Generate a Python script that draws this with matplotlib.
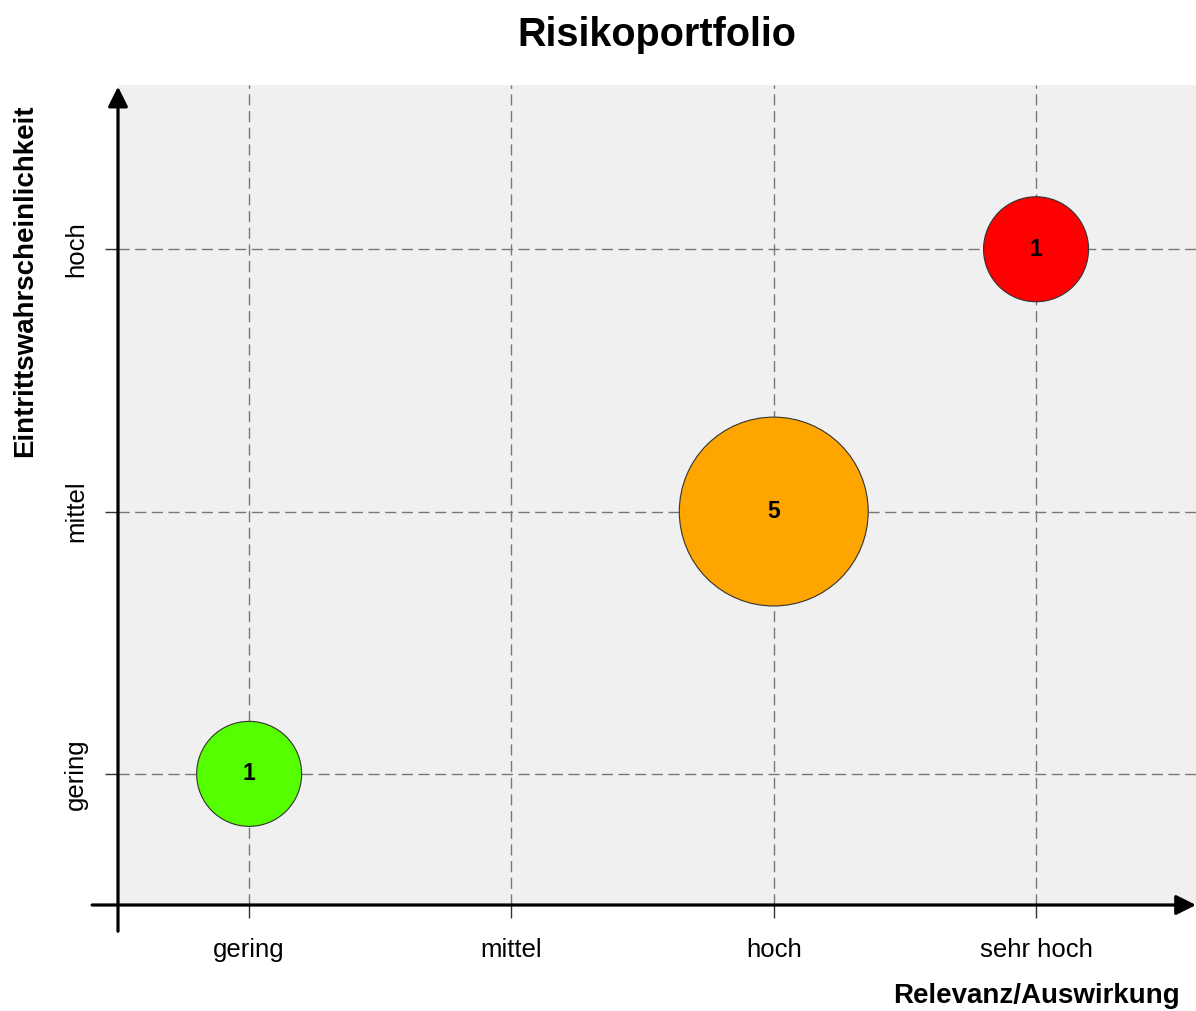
import matplotlib
matplotlib.use('Agg')
import matplotlib.pyplot as plt
import numpy as np

plt.rcParams['font.family'] = ['Liberation Sans', 'DejaVu Sans']

# data
x_levels = ['gering', 'mittel', 'hoch', 'sehr hoch']
y_levels = ['gering', 'mittel', 'hoch']
risk_x = [1, 3, 4]          # Relevanz/Auswirkung (1..4)
risk_y = [1, 2, 3]          # Eintrittswahrscheinlichkeit (1..3)
risk_count = [1, 5, 1]
risk_color = ['#55FF00', '#FFA500', '#FF0000']


def bubbleSize(counts, rmin=37.8, rmax=68.0):
    # linear radius scale between min and max count (radius in points)
    counts = np.array(counts, dtype=float)
    lo, hi = counts.min(), counts.max()
    r = rmin + (counts - lo) / (hi - lo) * (rmax - rmin)
    return (2 * r) ** 2


fig = plt.figure(figsize=(11.96, 10.11), dpi=100)
ax = fig.add_axes([118 / 1196, 106 / 1011, 1078 / 1196, 820 / 1011])
ax.set_facecolor('#F0F0F0')

ax.set_xlim(0.5, 0.5 + 1078 / 262.3)
ax.set_ylim(0.5, 0.5 + 820 / 262.3)

ax.set_xticks(np.arange(1, len(x_levels) + 1))
ax.set_xticklabels(x_levels, fontsize=18.5)
ax.set_yticks(np.arange(1, len(y_levels) + 1))
ax.set_yticklabels(y_levels, fontsize=18.5, rotation=90, va='center')
ax.tick_params(axis='x', length=9.5, width=1, color='#333333', pad=14)
ax.tick_params(axis='y', length=9.5, width=1, color='#333333', pad=12)

ax.grid(True, color='#777777', linestyle=(0, (8, 4)), linewidth=1)
ax.set_axisbelow(True)
for s in ax.spines.values():
    s.set_visible(False)

ax.scatter(risk_x, risk_y, s=bubbleSize(risk_count), c=risk_color,
           edgecolors='#333333', linewidths=0.8, zorder=3)
for xi, yi, c in zip(risk_x, risk_y, risk_count):
    ax.text(xi, yi, str(c), ha='center', va='center', fontsize=16.5,
            fontweight='bold', zorder=4)

# axis arrows
ax.annotate('', xy=(0, 0.998), xytext=(0, -0.032), xycoords='axes fraction',
            arrowprops=dict(arrowstyle='-|>', lw=2.3, color='black',
                            mutation_scale=30, shrinkA=0, shrinkB=0),
            annotation_clip=False, zorder=5)
ax.annotate('', xy=(1.0, 0), xytext=(-0.024, 0), xycoords='axes fraction',
            arrowprops=dict(arrowstyle='-|>', lw=2.3, color='black',
                            mutation_scale=30, shrinkA=0, shrinkB=0),
            annotation_clip=False, zorder=5)

fig.text(657 / 1196, 1 - 35 / 1011, 'Risikoportfolio', ha='center', va='center',
         fontsize=28.5, fontweight='bold')
fig.text(1180 / 1196, 1 - 996 / 1011, 'Relevanz/Auswirkung', ha='right', va='center',
         fontsize=20, fontweight='bold')
fig.text(25 / 1196, 1 - 281 / 1011, 'Eintrittswahrscheinlichkeit', ha='center',
         va='center', rotation=90, fontsize=20, fontweight='bold')

fig.savefig('out.png', dpi=100)
